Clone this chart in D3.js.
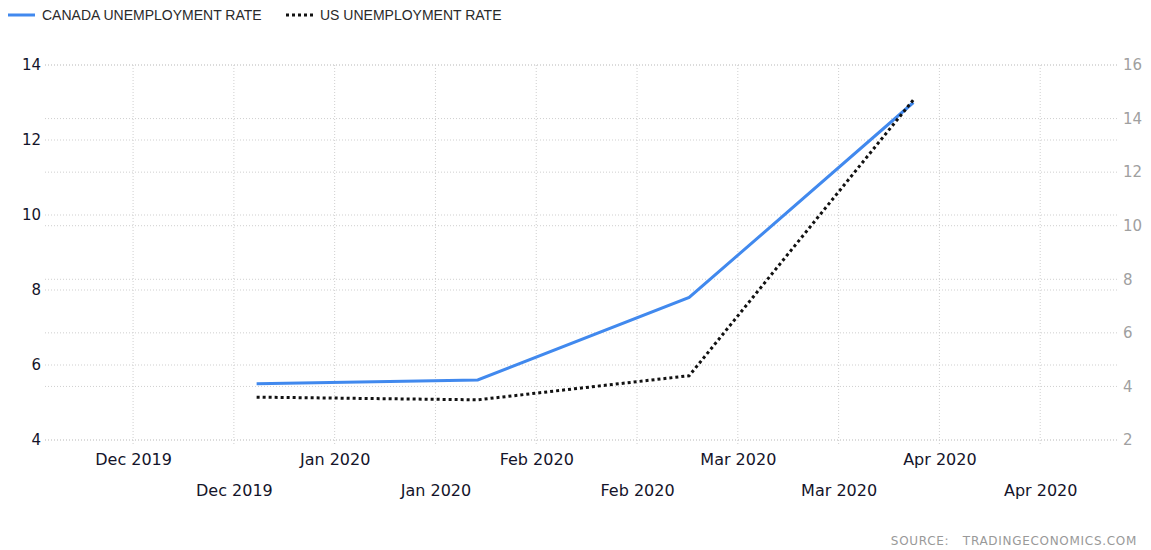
<!DOCTYPE html>
<html>
<head>
<meta charset="utf-8">
<script src="https://cdn.jsdelivr.net/npm/d3@7"></script>
<style>
  body { margin: 0; background: #fff; }
  svg text { font-family: "DejaVu Sans", sans-serif; }
</style>
</head>
<body>
<svg id="chart" width="1151" height="550"></svg>
<script>
// Month labels, two rows (month start and mid month ticks)
var monthLabels = ["Dec 2019", "Jan 2020", "Feb 2020", "Mar 2020", "Apr 2020"];

// Dates of the data points
var pointDates = ["2019-12-20", "2020-01-23", "2020-02-23", "2020-03-28"];

// Canada unemployment rate (left axis)
var canadaRate = [5.5, 5.6, 7.8, 13.0];

// US unemployment rate (right axis)
var usRate = [3.6, 3.5, 4.4, 14.7];

// Axis ticks
var leftTicks = [4, 6, 8, 10, 12, 14];
var rightTicks = [2, 4, 6, 8, 10, 12, 14, 16];

// Convert a date string into a month position (Dec 2019 = 0)
function monthPos(s) {
    var d = new Date(s + "T00:00:00");
    var y = d.getFullYear(), m = d.getMonth();
    var days = new Date(y, m + 1, 0).getDate();
    return (y - 2019) * 12 + m - 11 + (d.getDate() - 1) / days;
}

var margin = { top: 65, right: 33, bottom: 110, left: 45 },
    width = 1151 - margin.left - margin.right,
    height = 550 - margin.top - margin.bottom;

var svg = d3.select("#chart");
var g = svg.append("g").attr("transform", "translate(" + margin.left + "," + margin.top + ")");

var x = d3.scaleLinear().domain([-0.437, 4.886]).range([0, width]);
var yL = d3.scaleLinear().domain([4, 14]).range([height, 0]);
var yR = d3.scaleLinear().domain([2, 16]).range([height, 0]);

var gridColor = "#cfcfcf";

// horizontal grid for both axes
[[yL, leftTicks], [yR, rightTicks]].forEach(function (p) {
    g.append("g").selectAll("line").data(p[1]).enter().append("line")
        .attr("x1", 0).attr("x2", width)
        .attr("y1", d => p[0](d)).attr("y2", d => p[0](d))
        .attr("stroke", gridColor).attr("stroke-dasharray", "1,2");
});

// vertical grid every half month
var halfMonths = d3.range(0, 5, 0.5);
g.append("g").selectAll("line").data(halfMonths).enter().append("line")
    .attr("x1", d => x(d)).attr("x2", d => x(d))
    .attr("y1", 0).attr("y2", height + 5)
    .attr("stroke", gridColor).attr("stroke-dasharray", "1,2");

// x axis labels: month starts on the first row, mid months on the second
var monthStarts = d3.range(0, 5);
var monthMids = monthStarts.map(d => d + 0.5);

var xTop = g.append("g").attr("transform", "translate(0," + height + ")")
    .call(d3.axisBottom(x).tickValues(monthStarts).tickSize(0).tickPadding(14)
        .tickFormat((d, i) => monthLabels[i]));
var xBottom = g.append("g").attr("transform", "translate(0," + height + ")")
    .call(d3.axisBottom(x).tickValues(monthMids).tickSize(0).tickPadding(45)
        .tickFormat((d, i) => monthLabels[i]));

[xTop, xBottom].forEach(function (a) {
    a.select(".domain").remove();
    a.selectAll("text").attr("font-size", 16).attr("fill", "#14142a")
        .style("font-family", "DejaVu Sans, sans-serif");
});

// left axis
var left = g.append("g")
    .call(d3.axisLeft(yL).tickValues(leftTicks).tickSize(0).tickPadding(4));
left.select(".domain").remove();
left.selectAll("text").attr("font-size", 15).attr("fill", "#14142a")
    .style("font-family", "DejaVu Sans, sans-serif");

// right axis
var right = g.append("g").attr("transform", "translate(" + width + ",0)")
    .call(d3.axisRight(yR).tickValues(rightTicks).tickSize(0).tickPadding(5));
right.select(".domain").remove();
right.selectAll("text").attr("font-size", 15).attr("fill", "#a0a0a0")
    .style("font-family", "DejaVu Sans, sans-serif");

// series
var canadaData = pointDates.map((d, i) => ({ m: monthPos(d), v: canadaRate[i] }));
var usData = pointDates.map((d, i) => ({ m: monthPos(d), v: usRate[i] }));

var usLine = d3.line().x(d => x(d.m)).y(d => yR(d.v));
var caLine = d3.line().x(d => x(d.m)).y(d => yL(d.v));

g.append("path").datum(canadaData)
    .attr("fill", "none").attr("stroke", "#4189ee").attr("stroke-width", 3)
    .attr("d", caLine);

g.append("path").datum(usData)
    .attr("fill", "none").attr("stroke", "#111").attr("stroke-width", 3)
    .attr("stroke-dasharray", "3,3")
    .attr("d", usLine);

// legend
var legend = svg.append("g");
legend.append("line").attr("x1", 8).attr("x2", 35).attr("y1", 15).attr("y2", 15)
    .attr("stroke", "#4189ee").attr("stroke-width", 3);
legend.append("text").attr("x", 42).attr("y", 20).text("CANADA UNEMPLOYMENT RATE")
    .attr("font-size", 14).attr("fill", "#2a2a2a")
    .style("font-family", "Liberation Sans, Arial, sans-serif");
legend.append("line").attr("x1", 286).attr("x2", 314).attr("y1", 15).attr("y2", 15)
    .attr("stroke", "#111").attr("stroke-width", 3).attr("stroke-dasharray", "3,3");
legend.append("text").attr("x", 320).attr("y", 20).text("US UNEMPLOYMENT RATE")
    .attr("font-size", 14).attr("fill", "#2a2a2a")
    .style("font-family", "Liberation Sans, Arial, sans-serif");

// source
svg.append("text").attr("x", 1137).attr("y", 545).attr("text-anchor", "end")
    .attr("font-size", 12).attr("fill", "#999").attr("letter-spacing", 0.7)
    .style("white-space", "pre")
    .text("SOURCE:   TRADINGECONOMICS.COM");
</script>
</body>
</html>
